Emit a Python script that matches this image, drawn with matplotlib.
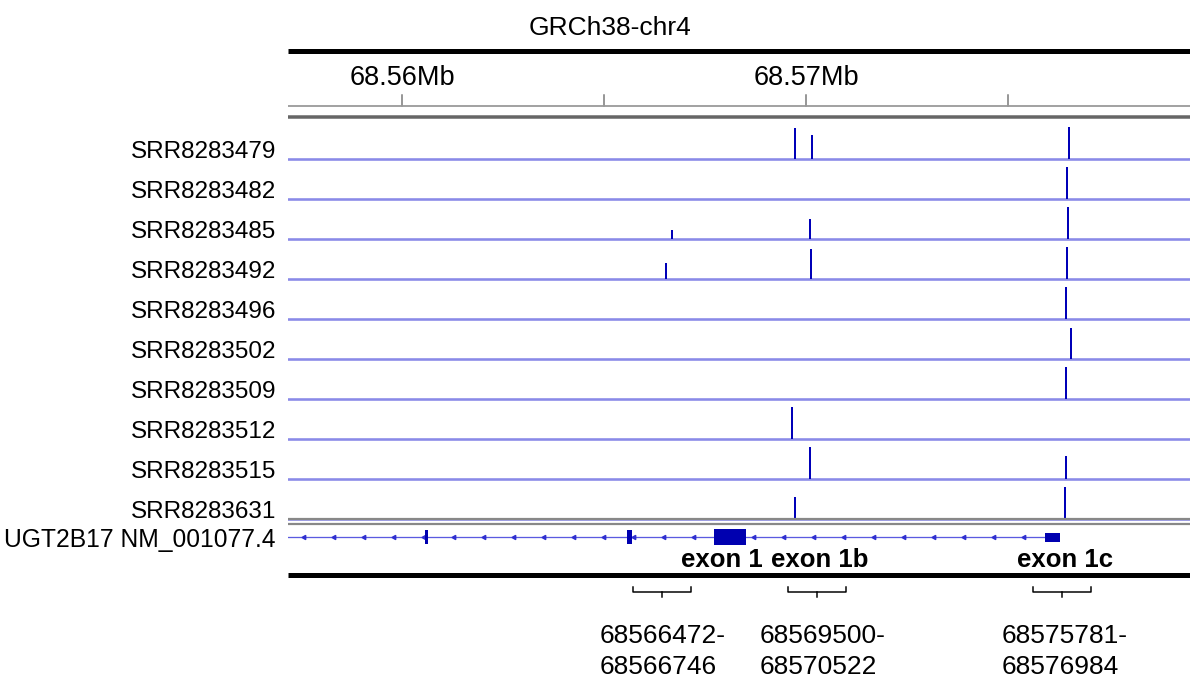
# IGV style coverage view, UGT2B17 region
import matplotlib.pyplot as plt
import numpy as np
from matplotlib.transforms import blended_transform_factory
from matplotlib.patches import Rectangle

plt.rcParams['font.family'] = ['Liberation Sans', 'DejaVu Sans']

# data
muestras = ["SRR8283479", "SRR8283482", "SRR8283485", "SRR8283492", "SRR8283496",
            "SRR8283502", "SRR8283509", "SRR8283512", "SRR8283515", "SRR8283631"]

# posiciones (bp) y alturas relativas de los picos de cada muestra
picos_pos = [
    [68569728, 68570149, 68576510],
    [68576460],
    [68566683, 68570099, 68576485],
    [68566535, 68570124, 68576460],
    [68576436],
    [68576559],
    [68576436],
    [68569653],
    [68570099, 68576436],
    [68569728, 68576411],
]
picos_alt = [
    [0.94, 0.75, 0.97],
    [0.97],
    [0.28, 0.60, 0.97],
    [0.50, 0.91, 0.97],
    [0.97],
    [0.94],
    [0.97],
    [0.97],
    [0.97, 0.69],
    [0.66, 1.00],
]

exones_ini = [68560569, 68565569, 68567723, 68575916]
exones_fin = [68560644, 68565693, 68568515, 68576287]
exones_alto = [14, 14, 16, 9]
gen_ini = 68557178
gen_fin = 68575916

ticks_mb = [68560000, 68565000, 68570000, 68575000]
ticks_etiquetas = ["68.56Mb", "", "68.57Mb", ""]

exon_nombres = ["exon 1", "exon 1b", "exon 1c"]
exon_nombres_x = [68567920, 68570350, 68576400]
rangos_a = ["68566472-", "68569500-", "68575781-"]
rangos_b = ["68566746", "68570522", "68576984"]
rangos_centro = [68566436, 68570272, 68576337]
rangos_texto_x = [68564900, 68568860, 68574850]

x_min, x_max = 68557178, 68579505

fig = plt.figure(figsize=(11.9, 6.79), dpi=100)
ax = fig.add_axes([288 / 1190, 0, 902 / 1190, 1])
ax.set_xlim(x_min, x_max)
ax.set_ylim(679, 0)
ax.axis('off')

px = 0.72  # puntos por pixel

# titulo
ax.text(68565150, 28, "GRCh38-chr4", ha='center', va='center', fontsize=19)

# linea negra superior
ax.plot([x_min, x_max], [51, 51], color='black', lw=5 * px, solid_capstyle='butt')

# regla
for t, lab in zip(ticks_mb, ticks_etiquetas):
    ax.plot([t, t], [95, 106], color='#777777', lw=1.5 * px)
    if lab:
        ax.text(t, 78, lab, ha='center', va='center', fontsize=19.5)
ax.plot([x_min, x_max], [106, 106], color='#999999', lw=1.8 * px)
ax.plot([x_min, x_max], [117, 117], color='#666666', lw=3.5 * px)

# pistas
trans = blended_transform_factory(fig.transFigure, ax.transData)
alto_pista = 32
for i, nombre in enumerate(muestras):
    base = 158.5 + 40 * i
    ax.plot([x_min, x_max], [base, base], color='#8a8ae8', lw=2.6 * px, zorder=2)
    ax.vlines(picos_pos[i], base - np.array(picos_alt[i]) * alto_pista, base,
              color='#0000b8', lw=2 * px, zorder=3)
    ax.text(276 / 1190, base - 6, nombre, transform=trans, ha='right', va='center',
            fontsize=17.5)

# separador doble
ax.plot([x_min, x_max], [519, 519], color='#888888', lw=2.2 * px, zorder=4)
ax.plot([x_min, x_max], [524, 524], color='#888888', lw=2.2 * px, zorder=4)

# gen
y_gen = 537
ax.plot([gen_ini, gen_fin], [y_gen, y_gen], color='#5a5ae0', lw=1.3 * px)
flechas = np.arange(gen_ini + 400, gen_fin, 742)
ax.plot(flechas, np.full(len(flechas), y_gen), ls='none', marker=(3, 0, 90),
        ms=3.5, color='#3030d0')
for a, b, h in zip(exones_ini, exones_fin, exones_alto):
    ax.add_patch(Rectangle((a, y_gen - h / 2), b - a, h, color='#0000b0', lw=0, zorder=5))
ax.text(276 / 1190, 540, "UGT2B17 NM_001077.4", transform=trans, ha='right', va='center',
        fontsize=17.7)

for nom, x in zip(exon_nombres, exon_nombres_x):
    ax.text(x, 560, nom, ha='center', va='center', fontsize=18.5, fontweight='bold')

# linea negra inferior
ax.plot([x_min, x_max], [575, 575], color='black', lw=5 * px, solid_capstyle='butt')

# corchetes y rangos
medio = 718
for c, tx, ra, rb in zip(rangos_centro, rangos_texto_x, rangos_a, rangos_b):
    ax.plot([c - medio, c - medio, c + medio, c + medio], [587, 592, 592, 587],
            color='black', lw=1.5 * px)
    ax.plot([c, c], [592, 597], color='black', lw=1.5 * px)
    ax.text(tx, 636, ra, ha='left', va='center', fontsize=19)
    ax.text(tx, 667, rb, ha='left', va='center', fontsize=19)

fig.savefig("out.png", dpi=100)
